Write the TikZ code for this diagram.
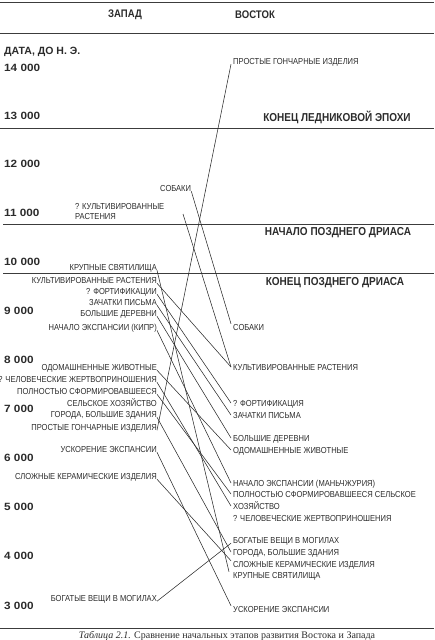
\documentclass[tikz,border=0pt]{standalone}
\usepackage{fontspec}
\setmainfont{Liberation Sans}[FakeStretch=0.87]
\newfontfamily\yearfont{Liberation Sans}[FakeStretch=1.12]
\newfontfamily\datefont{Liberation Sans}
\newfontfamily\capfont{Liberation Serif}
\usepackage{tikz}
\usetikzlibrary{calc}
\definecolor{ink}{HTML}{2B2B2B}
\definecolor{rulegray}{HTML}{3C3C3C}

\begin{document}
\begin{tikzpicture}[x=1pt,y=-1pt]
    % Styles for labels and lines
    \tikzset{
      wlabel/.style={anchor=east, inner sep=0pt, text depth=0pt, text=ink, font=\fontsize{8.7}{10}\selectfont},
      elabel/.style={anchor=west, inner sep=0pt, text depth=0pt, text=ink, font=\fontsize{8.7}{10}\selectfont},
      year/.style={anchor=west, inner sep=0pt, text=ink, font=\yearfont\bfseries\fontsize{10.5}{12}\selectfont},
      head/.style={inner sep=0pt, text=ink, font=\bfseries\fontsize{11}{13}\selectfont},
      epoch/.style={inner sep=0pt, text=ink, font=\bfseries\fontsize{11.5}{13}\selectfont},
      rule/.style={draw=rulegray, line width=1pt},
      link/.style={draw=ink, line width=0.55pt}
    }
    \useasboundingbox (0,0) rectangle (434,640);

    % Rules of the table
    \draw[rule] (0,2) -- (434,2);
    \draw[rule] (0,33) -- (434,33);
    \draw[rule] (0,128) -- (434,128);
    \draw[rule] (3,224) -- (434,224);
    \draw[rule] (3,273) -- (434,273);
    \draw[rule] (0,628) -- (434,628);

    % Column heads
    \node[head] (zapad) at (125,15) {ЗАПАД};
    \node[head] (vostok) at (255,15) {ВОСТОК};

    % Dates
    \node[year, font=\datefont\bfseries\fontsize{10.5}{12}\selectfont] (date) at (4,52) {ДАТА, ДО Н.~Э.};
    \node[year] (y14) at (4,68) {14 000};
    \node[year] (y13) at (4,116) {13 000};
    \node[year] (y12) at (4,164) {12 000};
    \node[year] (y11) at (4,213) {11 000};
    \node[year] (y10) at (4,262) {10 000};
    \node[year] (y9) at (4,311) {9 000};
    \node[year] (y8) at (4,360) {8 000};
    \node[year] (y7) at (4,409) {7 000};
    \node[year] (y6) at (4,458) {6 000};
    \node[year] (y5) at (4,507) {5 000};
    \node[year] (y4) at (4,556) {4 000};
    \node[year] (y3) at (4,606) {3 000};

    % Epochs
    \node[epoch] (glacial) at (337,117) {КОНЕЦ ЛЕДНИКОВОЙ ЭПОХИ};
    \node[epoch] (dryasA) at (338,233) {НАЧАЛО ПОЗДНЕГО ДРИАСА};
    \node[epoch] (dryasB) at (335,283) {КОНЕЦ ПОЗДНЕГО ДРИАСА};

    % West
    \node[wlabel, anchor=west] (wsob) at (160,188) {СОБАКИ};
    \node[wlabel, anchor=west, align=left] (wqcult) at (75,211) {? КУЛЬТИВИРОВАННЫЕ\\РАСТЕНИЯ};
    \coordinate (wqcultend) at (183,214);
    \node[wlabel] (wkrupn) at (157,267) {КРУПНЫЕ СВЯТИЛИЩА};
    \node[wlabel] (wcult) at (157,280) {КУЛЬТИВИРОВАННЫЕ РАСТЕНИЯ};
    \node[wlabel] (wfort) at (157,291) {? ФОРТИФИКАЦИИ};
    \node[wlabel] (wzach) at (157,302) {ЗАЧАТКИ ПИСЬМА};
    \node[wlabel] (wbolsh) at (157,313) {БОЛЬШИЕ ДЕРЕВНИ};
    \node[wlabel] (wnach) at (157,327) {НАЧАЛО ЭКСПАНСИИ (КИПР)};
    \node[wlabel] (wodom) at (157,367) {ОДОМАШНЕННЫЕ ЖИВОТНЫЕ};
    \node[wlabel] (wchel) at (157,379) {? ЧЕЛОВЕЧЕСКИЕ ЖЕРТВОПРИНОШЕНИЯ};
    \node[wlabel] (wpolnA) at (157,391) {ПОЛНОСТЬЮ СФОРМИРОВАВШЕЕСЯ};
    \node[wlabel] (wpolnB) at (157,403) {СЕЛЬСКОЕ ХОЗЯЙСТВО};
    \node[wlabel] (wgorod) at (157,414) {ГОРОДА, БОЛЬШИЕ ЗДАНИЯ};
    \node[wlabel] (wprost) at (157,427) {ПРОСТЫЕ ГОНЧАРНЫЕ ИЗДЕЛИЯ};
    \node[wlabel] (wuskor) at (157,449) {УСКОРЕНИЕ ЭКСПАНСИИ};
    \node[wlabel] (wslozh) at (157,476) {СЛОЖНЫЕ КЕРАМИЧЕСКИЕ ИЗДЕЛИЯ};
    \node[wlabel] (wbogat) at (157,598) {БОГАТЫЕ ВЕЩИ В МОГИЛАХ};

    % East
    \node[elabel] (eprost) at (233,61) {ПРОСТЫЕ ГОНЧАРНЫЕ ИЗДЕЛИЯ};
    \node[elabel] (esob) at (233,327) {СОБАКИ};
    \node[elabel] (ecult) at (233,367) {КУЛЬТИВИРОВАННЫЕ РАСТЕНИЯ};
    \node[elabel] (efort) at (233,403) {? ФОРТИФИКАЦИЯ};
    \node[elabel] (ezach) at (233,415) {ЗАЧАТКИ ПИСЬМА};
    \node[elabel] (ebolsh) at (233,438) {БОЛЬШИЕ ДЕРЕВНИ};
    \node[elabel] (eodom) at (233,450) {ОДОМАШНЕННЫЕ ЖИВОТНЫЕ};
    \node[elabel] (enach) at (233,483) {НАЧАЛО ЭКСПАНСИИ (МАНЬЧЖУРИЯ)};
    \node[elabel] (epolnA) at (233,494) {ПОЛНОСТЬЮ СФОРМИРОВАВШЕЕСЯ СЕЛЬСКОЕ};
    \node[elabel] (epolnB) at (233,506) {ХОЗЯЙСТВО};
    \node[elabel] (echel) at (233,518) {? ЧЕЛОВЕЧЕСКИЕ ЖЕРТВОПРИНОШЕНИЯ};
    \node[elabel] (ebogat) at (233,540) {БОГАТЫЕ ВЕЩИ В МОГИЛАХ};
    \node[elabel] (egorod) at (233,552) {ГОРОДА, БОЛЬШИЕ ЗДАНИЯ};
    \node[elabel] (eslozh) at (233,564) {СЛОЖНЫЕ КЕРАМИЧЕСКИЕ ИЗДЕЛИЯ};
    \node[elabel] (ekrupn) at (233,575) {КРУПНЫЕ СВЯТИЛИЩА};
    \node[elabel] (euskor) at (233,609) {УСКОРЕНИЕ ЭКСПАНСИИ};

    % Links west -> east
    \draw[link] (wprost.south east) -- ([xshift=-2pt]eprost.south west);
    \draw[link] (wsob.south east) -- ([xshift=-2pt]esob.north west);
    \draw[link] (wqcultend) -- ([xshift=-2pt]ecult.west);
    \draw[link] (wkrupn.south east) -- ([xshift=-4pt]ekrupn.north west);
    \draw[link] (wcult.south east) -- ([xshift=-2pt]ecult.west);
    \draw[link] (wfort.south east) -- ([xshift=-2pt]efort.west);
    \draw[link] (wzach.south east) -- ([xshift=-2pt]ezach.west);
    \draw[link] (wbolsh.south east) -- ([xshift=-2pt]ebolsh.west);
    \draw[link] (wnach.south east) -- ([xshift=-2pt]enach.west);
    \draw[link] (wodom.south east) -- ([xshift=-2pt]eodom.west);
    \draw[link] (wchel.south east) -- ([xshift=-2pt]epolnB.west);
    \draw[link] (wpolnA.south east) -- ([xshift=-2pt]epolnA.west);
    \draw[link] (wgorod.south east) -- ([xshift=-2pt]egorod.west);
    \draw[link] (wuskor.south east) -- ([xshift=-2pt]euskor.north west);
    \draw[link] (wslozh.south east) -- ([xshift=-2pt]eslozh.north west);
    \draw[link] (wbogat.south east) -- ([xshift=-2pt]ebogat.south west);

    % Caption
    \node[inner sep=0pt, anchor=base, text=ink, font=\capfont\fontsize{10}{12}\selectfont] (caption) at (227,638)
      {\textit{Таблица 2.1.} Сравнение начальных этапов развития Востока и Запада};
\end{tikzpicture}
\end{document}
